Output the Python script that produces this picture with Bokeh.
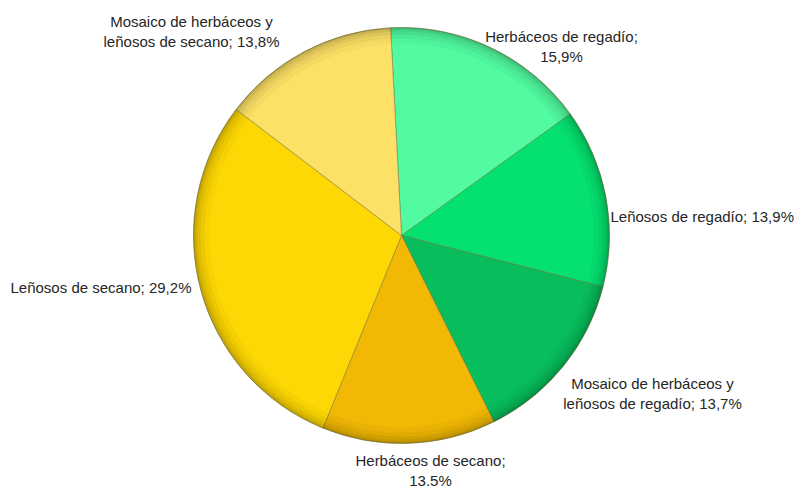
import math
from bokeh.plotting import figure
from bokeh.models import Range1d
from bokeh.core.properties import value
from bokeh.embed import file_html
from bokeh.resources import INLINE

# Share of land cover by crop type (percent), clockwise from the top
categories = [
    "Herbáceos de regadío",
    "Leñosos de regadío",
    "Mosaico de herbáceos y leñosos de regadío",
    "Herbáceos de secano",
    "Leñosos de secano",
    "Mosaico de herbáceos y leñosos de secano",
]
shares = [15.9, 13.9, 13.7, 13.5, 29.2, 13.8]
label_texts = [
    "Herbáceos de regadío;\n15,9%",
    "Leñosos de regadío; 13,9%",
    "Mosaico de herbáceos y\nleñosos de regadío; 13,7%",
    "Herbáceos de secano;\n13.5%",
    "Leñosos de secano; 29,2%",
    "Mosaico de herbáceos y\nleñosos de secano; 13,8%",
]
colors = ["#52fba2", "#05e16f", "#08bd5c", "#f1b805", "#fed804", "#fde066"]

W, H = 794, 491
CX, CY, R = 401, H - 235, 208
START = -3.0  # degrees clockwise from 12 o'clock where the first slice begins

# label anchors (x, y from top, horizontal alignment)
label_layout = [
    (561, 46, "center"),
    (610, 216, "left"),
    (652, 393, "center"),
    (430, 470, "center"),
    (10, 287, "left"),
    (191, 31, "center"),
]

p = figure(width=W, height=H, output_backend="svg", toolbar_location=None,
           x_range=Range1d(0, W), y_range=Range1d(0, H), min_border=0)
p.axis.visible = False
p.grid.visible = False
p.outline_line_color = None
p.background_fill_color = "white"
p.border_fill_color = "white"

total = sum(shares)
cum = 0.0
starts, ends = [], []
for s in shares:
    a0 = START + 360.0 * cum / total
    cum += s
    a1 = START + 360.0 * cum / total
    # convert clockwise-from-top to counterclockwise-from-east
    starts.append(math.radians(90 - a1))
    ends.append(math.radians(90 - a0))

p.wedge(x=CX, y=CY, radius=R, start_angle=starts, end_angle=ends,
        fill_color=colors, line_color="#6a6a3a", line_alpha=0.45, line_width=1)

# soft darker rim to suggest the bevel
for w_in, a in [(16, 0.03), (11, 0.04), (7, 0.05), (4, 0.06), (2, 0.07)]:
    p.annular_wedge(x=CX, y=CY, inner_radius=R - w_in, outer_radius=R,
                    start_angle=starts, end_angle=ends,
                    fill_color="black", fill_alpha=a, line_color=None)

p.circle(x=CX, y=CY, radius=R, fill_color=None, line_color="#707040",
         line_alpha=0.35, line_width=1)

for txt, (lx, ly, al) in zip(label_texts, label_layout):
    p.text(x=[lx], y=[H - ly], text=[txt], text_align=al, text_baseline="middle",
           text_font=value("Liberation Sans"), text_font_size="15px",
           text_color="#262626", text_line_height=1.2)

open("out.html", "w").write(file_html(p, INLINE))
